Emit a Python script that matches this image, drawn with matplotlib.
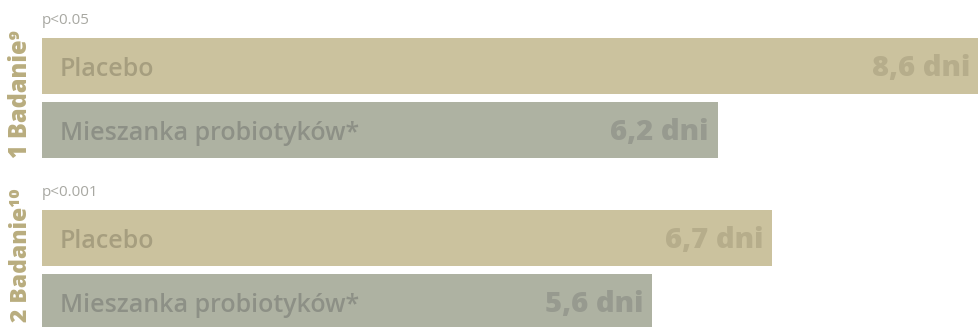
import matplotlib.pyplot as plt

plt.rcParams['font.family'] = ['Open Sans', 'DejaVu Sans']

studies = ["1 Badanie\u2079", "2 Badanie\u00b9\u2070"]
p_values = ["p<0.05", "p<0.001"]
labels = ["Placebo", "Mieszanka probiotyków*"]
days = [[8.6, 6.2], [6.7, 5.6]]

bar_colors = ["#cbc29e", "#aeb2a2"]
name_colors = ["#a69e7f", "#8d9086"]
value_colors = ["#b6ad8b", "#979a8f"]

fig = plt.figure(figsize=(9.79, 3.27), dpi=100)
ax = fig.add_axes([42 / 979, 0, 937 / 979, 1])
ax.set_xlim(0, 8.6)
ax.set_ylim(327, 0)
ax.axis('off')

group_top = [38, 210]
bar_h = 56
step = 64

for g, study in enumerate(studies):
    for i, lab in enumerate(labels):
        yc = group_top[g] + i * step + bar_h / 2
        v = days[g][i]
        ax.barh(yc, v, height=bar_h, left=0, color=bar_colors[i], linewidth=0)
        ax.text(0.165, yc + 3, lab, ha='left', va='center', fontsize=18,
                color=name_colors[i], fontweight='semibold')
        ax.text(v - 0.08, yc + 3, f"{v:.1f}".replace('.', ',') + " dni",
                ha='right', va='center', fontsize=21, fontweight='extra bold',
                color=value_colors[i])
    ax.text(0.0, group_top[g] - 18, p_values[g], ha='left', va='center',
            fontsize=11, color='#a8a8a2', fontweight='normal')

fig.text(21 / 979, 1 - 94 / 327, studies[0], rotation=90, ha='center',
         va='center', fontsize=17, fontweight='extra bold', color='#b9ad7e')
fig.text(21 / 979, 1 - 255 / 327, studies[1], rotation=90, ha='center',
         va='center', fontsize=16.5, fontweight='extra bold', color='#b9ad7e')

fig.savefig('out.png', dpi=100)
